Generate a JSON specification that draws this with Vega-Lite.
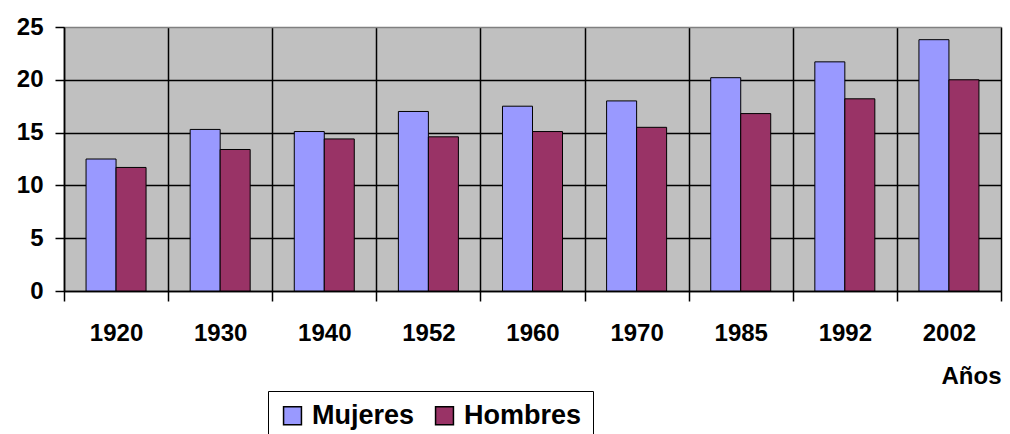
{
  "$schema": "https://vega.github.io/schema/vega-lite/v6.json",
  "autosize": {"type": "none"},
  "width": 937,
  "height": 264,
  "padding": {"left": 64, "top": 27, "right": 9, "bottom": 143},
  "background": "white",
  "config": {
    "font": "Liberation Sans",
    "view": {"fill": "#C0C0C0", "stroke": "#808080", "strokeWidth": 1}
  },
  "data": {
    "values": [
      {"anio": "1920", "sexo": "Mujeres", "valor": 12.5},
      {"anio": "1920", "sexo": "Hombres", "valor": 11.7},
      {"anio": "1930", "sexo": "Mujeres", "valor": 15.3},
      {"anio": "1930", "sexo": "Hombres", "valor": 13.4},
      {"anio": "1940", "sexo": "Mujeres", "valor": 15.1},
      {"anio": "1940", "sexo": "Hombres", "valor": 14.4},
      {"anio": "1952", "sexo": "Mujeres", "valor": 17.0},
      {"anio": "1952", "sexo": "Hombres", "valor": 14.6},
      {"anio": "1960", "sexo": "Mujeres", "valor": 17.5},
      {"anio": "1960", "sexo": "Hombres", "valor": 15.1},
      {"anio": "1970", "sexo": "Mujeres", "valor": 18.0},
      {"anio": "1970", "sexo": "Hombres", "valor": 15.5},
      {"anio": "1985", "sexo": "Mujeres", "valor": 20.2},
      {"anio": "1985", "sexo": "Hombres", "valor": 16.8},
      {"anio": "1992", "sexo": "Mujeres", "valor": 21.7},
      {"anio": "1992", "sexo": "Hombres", "valor": 18.2},
      {"anio": "2002", "sexo": "Mujeres", "valor": 23.8},
      {"anio": "2002", "sexo": "Hombres", "valor": 20.0}
    ]
  },
  "mark": {"type": "bar", "stroke": "black", "strokeWidth": 1},
  "encoding": {
    "x": {
      "field": "anio",
      "type": "nominal",
      "sort": null,
      "scale": {"paddingInner": 0, "paddingOuter": 0},
      "axis": {
        "title": "Años",
        "titleAnchor": "end",
        "titleFontSize": 24,
        "titleFontWeight": "bold",
        "titleColor": "black",
        "titlePadding": 19,
        "labelAngle": 0,
        "labelFontSize": 24,
        "labelFontWeight": "bold",
        "labelColor": "black",
        "labelPadding": 20,
        "tickBand": "extent",
        "tickSize": 10,
        "tickColor": "black",
        "tickWidth": 1.5,
        "domainColor": "black",
        "domainWidth": 1.5,
        "grid": true,
        "gridColor": "black",
        "gridWidth": 1.5,
        "gridOpacity": 1
      }
    },
    "xOffset": {
      "field": "sexo",
      "type": "nominal",
      "sort": ["Mujeres", "Hombres"],
      "scale": {"paddingInner": 0, "paddingOuter": 0.735}
    },
    "y": {
      "field": "valor",
      "type": "quantitative",
      "scale": {"domain": [0, 25], "nice": false},
      "axis": {
        "title": null,
        "values": [0, 5, 10, 15, 20, 25],
        "labelFontSize": 24,
        "labelFontWeight": "bold",
        "labelColor": "black",
        "labelPadding": 12,
        "tickSize": 9,
        "tickColor": "black",
        "tickWidth": 1.5,
        "domainColor": "black",
        "domainWidth": 1.5,
        "grid": true,
        "gridColor": {"condition": {"test": "datum.value === 25", "value": "#808080"}, "value": "black"},
        "gridWidth": 1.5,
        "gridOpacity": 1
      }
    },
    "color": {
      "field": "sexo",
      "type": "nominal",
      "sort": ["Mujeres", "Hombres"],
      "scale": {"domain": ["Mujeres", "Hombres"], "range": ["#9999FF", "#993366"]},
      "legend": {
        "title": null,
        "orient": "none",
        "direction": "horizontal",
        "legendX": 204,
        "legendY": 364,
        "strokeColor": "black",
        "fillColor": "white",
        "padding": 11,
        "symbolType": "square",
        "symbolSize": 320,
        "symbolStrokeColor": "black",
        "symbolStrokeWidth": 1.5,
        "symbolOpacity": 1,
        "labelFontSize": 27,
        "labelFontWeight": "bold",
        "labelColor": "black",
        "labelOffset": 6,
        "columnPadding": 16,
        "labelLimit": 300
      }
    }
  }
}
